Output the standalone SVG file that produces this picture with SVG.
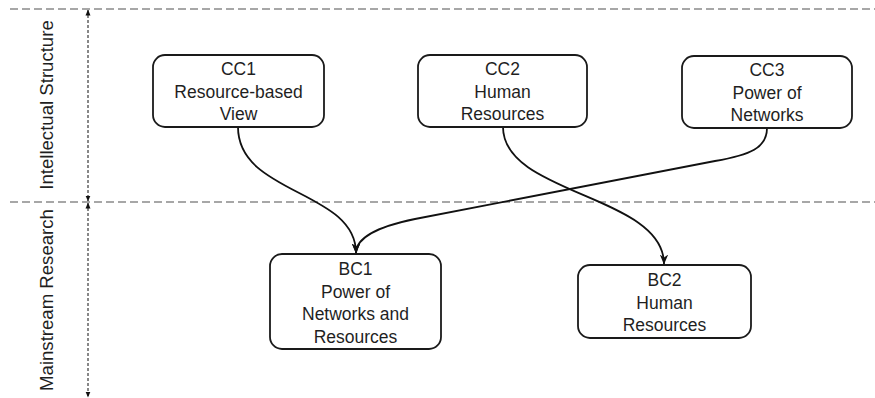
<svg xmlns="http://www.w3.org/2000/svg" width="875" height="398" viewBox="0 0 875 398">
<style>
.band{stroke:#8a8a8a;stroke-width:1.6;stroke-dasharray:8 4;fill:none}
.axis{stroke:#111;stroke-width:1;stroke-dasharray:3 2;fill:none}
.node rect{fill:#fff;stroke:#1a1a1a;stroke-width:1.8}
.node text{font-family:"Liberation Sans",Arial,sans-serif;font-size:17.5px;fill:#1f1f1f;text-anchor:middle}
.lab{font-family:"Liberation Sans",Arial,sans-serif;font-size:18.6px;fill:#1f1f1f;text-anchor:middle}
.edge{stroke:#111;stroke-width:1.8;fill:none;marker-end:url(#arr)}
</style>
<defs>
<marker id="arr" viewBox="0 0 10 10" refX="9.5" refY="5" markerWidth="10" markerHeight="10" markerUnits="userSpaceOnUse" orient="auto">
<path d="M0,0.8 L10,5 L0,9.2 L3,5 Z" fill="#111"/>
</marker>
<marker id="tick" viewBox="0 0 6 6" refX="5.5" refY="3" markerWidth="6" markerHeight="6" markerUnits="userSpaceOnUse" orient="auto-start-reverse">
<path d="M0,0.5 L6,3 L0,5.5 Z" fill="#111"/>
</marker>
</defs>
<g id="bands">
<line class="band" x1="10" y1="9" x2="875" y2="9"/>
<line class="band" x1="10" y1="202" x2="875" y2="202"/>
<line class="axis" x1="88" y1="10" x2="88" y2="201" marker-start="url(#tick)" marker-end="url(#tick)"/>
<line class="axis" x1="88" y1="203" x2="88" y2="397" marker-start="url(#tick)" marker-end="url(#tick)"/>
<text class="lab" transform="translate(53,105) rotate(-90)">Intellectual Structure</text>
<text class="lab" transform="translate(53,300) rotate(-90)">Mainstream Research</text>
</g>
<g id="connectors">
<path class="edge" d="M238,127 C238,195 356,190 356,253"/>
<path class="edge" d="M503,127 C503,195 664,195 664,264"/>
<path class="edge" d="M767,128 C767,148 750,155 715,161 L415,219 Q356,231 356,253"/>
</g>
<g id="CC1" class="node">
<rect x="153" y="55" width="171" height="72" rx="12"/>
<text x="238.5" y="75">CC1</text>
<text x="238.5" y="98">Resource-based</text>
<text x="238.5" y="120">View</text>
</g>
<g id="CC2" class="node">
<rect x="418" y="55" width="169" height="72" rx="12"/>
<text x="502.5" y="75">CC2</text>
<text x="502.5" y="98">Human</text>
<text x="502.5" y="120">Resources</text>
</g>
<g id="CC3" class="node">
<rect x="682" y="56" width="170" height="72" rx="12"/>
<text x="767" y="76">CC3</text>
<text x="767" y="98.5">Power of</text>
<text x="767" y="121">Networks</text>
</g>
<g id="BC1" class="node">
<rect x="270" y="254" width="171" height="95" rx="12"/>
<text x="355.5" y="275">BC1</text>
<text x="355.5" y="297.5">Power of</text>
<text x="355.5" y="320">Networks and</text>
<text x="355.5" y="343">Resources</text>
</g>
<g id="BC2" class="node">
<rect x="578" y="265" width="173" height="73" rx="12"/>
<text x="664.5" y="286">BC2</text>
<text x="664.5" y="308.5">Human</text>
<text x="664.5" y="331">Resources</text>
</g>
</svg>
